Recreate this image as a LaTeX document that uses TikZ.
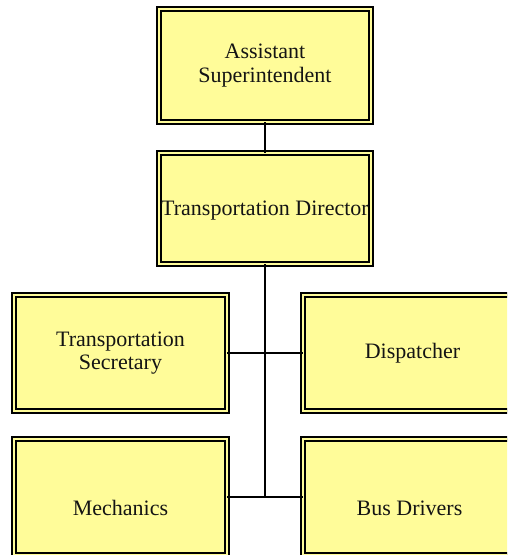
\documentclass[tikz,border=0pt]{standalone}
\usepackage{fontspec}
\setmainfont{Liberation Serif}
\definecolor{boxfill}{RGB}{255,252,153}
\definecolor{ink}{RGB}{20,20,20}
\begin{document}
\begin{tikzpicture}[x=1pt,y=-1pt,
  orgbox/.style={draw=black, fill=boxfill, line width=1.4pt,
    double=boxfill, double distance=2.6pt, inner sep=0pt, outer sep=0pt,
    minimum width=#1-4pt},
  orgbox/.default=216pt,
  title/.style={font=\fontsize{22}{23.5}\selectfont, text=ink, align=center, inner sep=0pt},
  link/.style={draw=black, line width=1.4pt}]
  \useasboundingbox (0,0) rectangle (507,555);
  \clip (0,0) rectangle (507,555);

  % boxes
  \node[orgbox=216pt, minimum height=117pt-4pt] (asst) at (265,65.5) {};
  \node[orgbox=216pt, minimum height=115pt-4pt] (dir)  at (265,208.5) {};
  \node[orgbox=217pt, minimum height=120pt-4pt] (sec)  at (120.5,353) {};
  \node[orgbox=217pt, minimum height=120pt-4pt] (disp) at (409.5,353) {};
  \node[orgbox=217pt, minimum height=120pt-4pt] (mech) at (120.5,497) {};
  \node[orgbox=217pt, minimum height=120pt-4pt] (bus)  at (409.5,497) {};

  % labels
  \node[title] (tasst) at (asst) {Assistant\\Superintendent};
  \node[title] (tdir)  at ([yshift=-2pt]dir.center) {Transportation Director};
  \node[title] (tsec)  at (sec) {Transportation\\Secretary};
  \node[title] (tdisp) at ([xshift=3pt]disp.center) {Dispatcher};
  \node[title] (tmech) at ([yshift=-11pt]mech.center) {Mechanics};
  \node[title] (tbus)  at ([yshift=-11pt]bus.center) {Bus Drivers};

  % connectors
  \coordinate (trunk) at (dir.south |- mech.east);
  \draw[link] (asst.south) -- (dir.north);
  \draw[link] (dir.south) -- (trunk);
  \draw[link] (sec.east) -- (disp.west);
  \draw[link] (mech.east) -- (bus.west);
\end{tikzpicture}
\end{document}
